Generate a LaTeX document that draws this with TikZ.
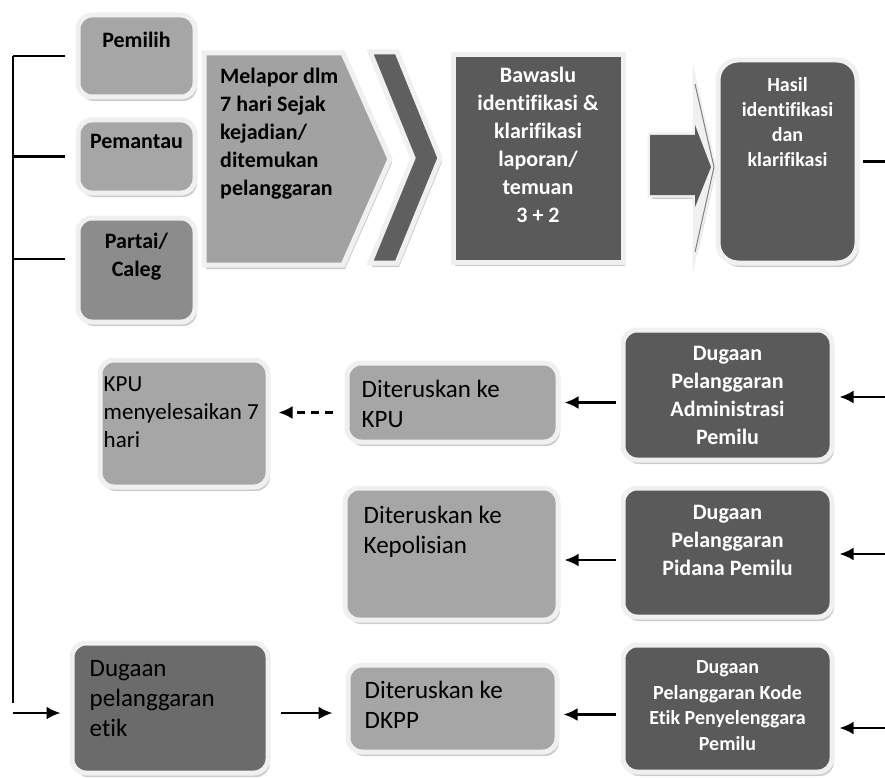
\documentclass[tikz,border=0pt]{standalone}
\usepackage{fontspec}
\setmainfont[Ligatures={NoCommon,NoContextual}]{Carlito}
\usetikzlibrary{positioning,shadows,arrows.meta}
\definecolor{boxmid}{HTML}{A6A6A6}
\definecolor{boxpartai}{HTML}{8C8C8C}
\definecolor{boxmelapor}{HTML}{A2A2A2}
\definecolor{boxchev}{HTML}{5F5F5F}
\definecolor{boxdark}{HTML}{5A5A5A}
\definecolor{boxetik}{HTML}{6B6B6B}
\definecolor{glow}{HTML}{F0F0F0}
\begin{document}
\begin{tikzpicture}[x=1pt,y=-1pt,
	box/.style={draw=glow,line width=5pt,inner sep=0pt,rounded corners=14pt,
		drop shadow={shadow xshift=2pt,shadow yshift=-4pt,fill=black!40}},
	midbox/.style={box,fill=boxmid},
	darkbox/.style={box,fill=boxdark},
	head/.style={font=\bfseries\fontsize{22}{28}\selectfont,align=center,inner sep=0pt},
	whead/.style={head,text=white},
	body/.style={font=\fontsize{25}{30}\selectfont,align=left,inner sep=0pt},
	link/.style={line width=2.6pt},
	flow/.style={link,-{Latex[length=14pt,width=13pt]}}]
\useasboundingbox (0,0) rectangle (885,778);

\node[midbox,minimum width=117pt,minimum height=82pt] (pemilih) at (136.5,56) {};
\node[midbox,minimum width=117pt,minimum height=73pt] (pemantau) at (136.5,156.5) {};
\node[box,fill=boxpartai,minimum width=117pt,minimum height=104pt] (partai) at (136.5,270) {};
\draw[box,fill=boxmelapor,rounded corners=0pt] (204,53) -- (343,53) -- (390,159) -- (343,265) -- (204,265) -- cycle;
\draw[box,fill=boxchev,rounded corners=0pt] (370,52) -- (397,52) -- (440,158) -- (397,263) -- (370,263) -- (413,158) -- cycle;
\node[darkbox,rounded corners=0pt,minimum width=170pt,minimum height=207pt] (bawaslu) at (538,158.5) {};
\draw[box,fill=glow,rounded corners=0pt] (650,135) -- (695,135) -- (695,84) -- (714,167) -- (695,252) -- (695,195) -- (650,195) -- cycle;
\fill[boxdark] (650,135) -- (695,135) -- (695,125) -- (711,167) -- (695,207) -- (695,195) -- (650,195) -- cycle;
\draw[gray,line width=1pt] (695,84) -- (714,167) -- (695,252);
\node[darkbox,rounded corners=20pt,minimum width=139pt,minimum height=203pt] (hasil) at (787.5,161.5) {};

\node[midbox,minimum width=168pt,minimum height=127pt] (kpu) at (184,423.5) {};
\node[midbox,minimum width=211pt,minimum height=79pt] (terkpu) at (452.5,402.5) {};
\node[darkbox,minimum width=209pt,minimum height=130pt] (adm) at (727.5,395) {};
\node[midbox,minimum width=213pt,minimum height=132pt] (polisi) at (451.5,554) {};
\node[darkbox,minimum width=209pt,minimum height=129pt] (pidana) at (727.5,552.5) {};
\node[box,fill=boxetik,minimum width=196pt,minimum height=130pt] (etik) at (170,708) {};
\node[midbox,minimum width=209pt,minimum height=87pt] (dkpp) at (452.5,708.5) {};
\node[darkbox,minimum width=209pt,minimum height=127pt] (kode) at (727.5,708.5) {};

\node[head,below=19pt of pemilih.north] (pemilihtxt) {Pemilih};
\node[head,below=17pt of pemantau.north] (pemantautxt) {Pemantau};
\node[head,below=17pt of partai.north] (partaitxt) {Partai/\\Caleg};
\node[head,align=left,anchor=north west] (melapor) at (220,68) {Melapor dlm\\7 hari Sejak\\kejadian/\\ditemukan\\pelanggaran};
\node[whead,below=14pt of bawaslu.north] (bawaslutxt) {Bawaslu\\identifikasi \&\\klarifikasi\\laporan/\\temuan\\3 + 2};
\node[whead,font=\bfseries\fontsize{20}{25}\selectfont,below=20pt of hasil.north] (hasiltxt) {Hasil\\identifikasi\\dan\\klarifikasi};
\node[body,font=\fontsize{23}{28}\selectfont,below right=19pt and 6pt of kpu.north west] (kputxt) {KPU\\menyelesaikan 7\\hari};
\node[body,below right=19pt and 17pt of terkpu.north west] (terkputxt) {Diteruskan ke\\KPU};
\node[body,below right=20pt and 21pt of polisi.north west] (polisitxt) {Diteruskan ke\\Kepolisian};
\node[body,below right=18pt and 19pt of dkpp.north west] (dkpptxt) {Diteruskan ke\\DKPP};
\node[body,below right=20pt and 20pt of etik.north west] (etiktxt) {Dugaan\\pelanggaran\\etik};
\node[whead,below=19pt of adm.north] (admtxt) {Dugaan\\Pelanggaran\\Administrasi\\Pemilu};
\node[whead,below=20pt of pidana.north] (pidanatxt) {Dugaan\\Pelanggaran\\Pidana Pemilu};
\node[whead,font=\bfseries\fontsize{20}{25.5}\selectfont,below=18pt of kode.north] (kodetxt) {Dugaan\\Pelanggaran Kode\\Etik Penyelenggara\\Pemilu};

\coordinate (bustop) at (13,56);
\coordinate (busbot) at (13,703);
\coordinate (busin) at (13,713);
\coordinate (outhasil) at (885,161.5);
\coordinate (inadm) at (885,397);
\coordinate (inpidana) at (885,554);
\coordinate (inkode) at (885,728);
\draw[link] (bustop) -- (busbot);
\draw[link] (bustop) -- ([xshift=-11pt]pemilih.west);
\draw[link] (bustop |- pemantau.west) -- ([xshift=-11pt]pemantau.west);
\draw[link] ([yshift=11pt]partai.west -| bustop) -- ([xshift=-11pt,yshift=11pt]partai.west);
\draw[flow,shorten >=9pt] (busin) -- (busin -| etik.west);
\draw[link] ([xshift=3pt]hasil.east) -- (outhasil);
\draw[flow,shorten >=5pt] (inadm) -- (inadm -| adm.east);
\draw[flow,shorten >=5pt] (inpidana) -- (inpidana -| pidana.east);
\draw[flow,shorten >=5pt] (inkode) -- (inkode -| kode.east);
\draw[flow,shorten <=5pt,shorten >=4pt] (terkpu.east -| adm.west) -- (terkpu.east);
\draw[flow,shorten <=5pt,shorten >=4pt] ([yshift=-6pt]polisi.east -| pidana.west) -- ([yshift=-6pt]polisi.east);
\draw[flow,shorten <=5pt,shorten >=4pt] ([yshift=-6pt]dkpp.east -| kode.west) -- ([yshift=-6pt]dkpp.east);
\draw[flow,shorten <=10pt,shorten >=13pt] ([yshift=-5pt]etik.east) -- ([yshift=-5pt]etik.east -| dkpp.west);
\draw[flow,dash pattern=on 8pt off 6pt,shorten <=12pt,shorten >=8pt] ([yshift=-10pt]terkpu.west) -- ([yshift=-10pt]terkpu.west -| kpu.east);
\end{tikzpicture}
\end{document}
